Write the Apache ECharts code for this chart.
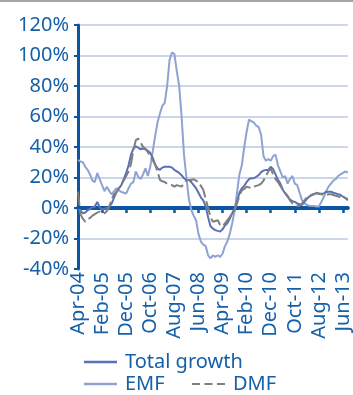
<!DOCTYPE html>
<html>
<head>
<meta charset="utf-8">
<script src="https://cdn.jsdelivr.net/npm/echarts@6/dist/echarts.min.js"></script>
<style>
html,body{margin:0;padding:0;background:#fff;}
#chart{width:353px;height:395px;}
</style>
</head>
<body>
<div id="chart"></div>
<script>
// Monthly categories Apr-04 .. Aug-13
const monthNames = ['Jan','Feb','Mar','Apr','May','Jun','Jul','Aug','Sep','Oct','Nov','Dec'];
const categories = [];
for (let k = 0; k < 113; k++) {
  const m = (3 + k) % 12;
  const y = 4 + Math.floor((3 + k) / 12);
  categories.push(monthNames[m] + '-' + String(y).padStart(2, '0'));
}

const totalGrowth = [
  -1, -1.5, -3.5, -3, -1.5, -0.5, 0.5, 1, 4, 0.5,
  -1, -0.5, 0, 1, 3, 7, 10.5, 13, 15, 19,
  23, 28, 35, 39, 40.5, 39.5, 38.5, 39, 38.5, 37.5,
  36, 33, 28.5, 26, 25, 26.5, 27, 27, 27, 26.5,
  25, 24, 23, 21.5, 19.5, 18.4, 18.4, 17, 15, 13,
  10, 7, 5, 1, -6, -12, -13.5, -14.5, -15, -15.5,
  -14, -11.5, -10, -7, -3.5, -0.5, 4, 10, 13, 14.5,
  17, 19, 19.5, 19.5, 20.5, 21.5, 23.5, 24.5, 25, 25,
  27, 25.5, 22, 18.5, 16, 12, 9.5, 7.4, 5.5, 4.5,
  4, 3, 2.5, 2, 4, 6, 7.5, 8.5, 9.2, 9.6,
  9.4, 9.3, 9.6, 10.5, 10.7, 10.7, 10, 9.6, 9, 8.5,
  7.4, 6.5, 5
];

const emf = [
  31.5, 30.5, 30, 27, 25, 22, 18, 17, 23, 19,
  15, 11, 14, 11, 9, 11, 13, 11.5, 10.5, 10,
  9.5, 13, 16, 17, 24, 20.5, 19, 22, 26, 21,
  27, 37, 47, 56, 62, 67, 69, 80, 97, 102,
  101, 90, 80, 60, 35, 20, 6, -1, -5, -8,
  -17, -22, -24, -25, -31, -33, -31, -32, -31, -32,
  -30, -25, -22, -17, -10, -2, 10, 22, 28, 40,
  50, 58, 57, 56, 54, 53, 48, 34, 31, 32,
  31, 34, 35, 28, 24, 20, 21, 16, 19, 21,
  16, 15, 10, 5, 3, 2, 1.5, 1.3, 1.3, 1,
  1, 4, 7, 11, 14, 16, 18, 19, 21, 22,
  23, 24, 23
];

const dmf = [
  10.7, -4, -7, -9, -7.5, -6.5, -5, -4, -3, -2.4,
  -3.5, -3.5, -2, 1, 6, 9, 10.5, 13, 15.5, 18,
  21, 24, 29, 38, 44.5, 45.5, 43, 40, 39, 36.5,
  34, 31.5, 28.5, 24, 18.5, 17.5, 17, 16, 15.5, 15,
  14, 15, 14.5, 14, 16, 18.4, 18.4, 18.4, 18.8, 18,
  17, 14.5, 12, 6, 0, -6, -9, -8.5, -8, -11,
  -12, -10, -8, -6, -3.5, -1.5, 3, 8, 11.5, 12.5,
  14, 13.5, 13, 14, 14.5, 15, 16, 18, 21, 24,
  26, 22, 19, 17, 14.5, 12, 10, 8, 5, 3,
  2, 1.3, 1.5, 3, 5, 7, 8, 8.5, 9, 10,
  9.5, 9, 8.5, 8.5, 9, 9, 8.5, 8, 7.5, 7,
  7, 6.5, 6
];

const yTicks = { min: -40, max: 120, interval: 20 };

const blue = '#0b55a3';
const textBlue = '#1660aa';
const gridColor = '#bcc7e4';
const totalColor = '#5a71b3';
const emfColor = '#8fa3d3';
const dmfColor = '#7f7f7f';
const font = '"Noto Sans", "Open Sans", sans-serif';
const dashIcon = 'path://M0,0h8v2h-8z M12.5,0h8v2h-8z M25,0h8v2h-8z';

const legendText = { color: textBlue, fontSize: 20, fontFamily: font, padding: [0, 0, 0, 3] };

const chart = echarts.init(document.getElementById('chart'));
chart.setOption({
  animation: false,
  backgroundColor: '#fff',
  graphic: [{
    type: 'rect', shape: { x: 0, y: 0, width: 353, height: 2 },
    style: { fill: '#a6a6a6' }, silent: true
  }],
  grid: { left: 78, top: 25, width: 275, height: 244, containLabel: false },
  legend: [{
    data: [{ name: 'Total growth', icon: 'rect' }],
    left: 79, top: 347,
    itemWidth: 33, itemHeight: 2.5, itemGap: 27,
    textStyle: legendText
  }, {
    data: [{ name: 'EMF', icon: 'rect' }],
    left: 79, top: 369,
    itemWidth: 33, itemHeight: 2.5,
    textStyle: legendText
  }, {
    data: [{ name: 'DMF', icon: dashIcon }],
    left: 187, top: 369,
    itemWidth: 33, itemHeight: 2.5,
    textStyle: legendText
  }],
  xAxis: [{
    type: 'category',
    data: categories,
    boundaryGap: false,
    position: 'bottom',
    axisLine: { show: false, onZero: false },
    axisTick: { show: false },
    splitLine: { show: false },
    axisLabel: {
      rotate: 90, interval: 9, margin: 3,
      color: textBlue, fontSize: 20, fontFamily: font
    }
  }, {
    type: 'category',
    data: categories,
    boundaryGap: false,
    position: 'top',
    axisLine: { show: true, onZero: true, lineStyle: { color: blue, width: 4 } },
    axisTick: { show: true, inside: true, interval: 9, length: 5, lineStyle: { color: blue, width: 2.5 } },
    axisLabel: { show: false },
    splitLine: { show: false }
  }],
  yAxis: {
    type: 'value',
    min: yTicks.min, max: yTicks.max, interval: yTicks.interval,
    axisLine: { show: true, lineStyle: { color: blue, width: 3 } },
    axisTick: { show: true, length: 4, lineStyle: { color: blue, width: 2 } },
    axisLabel: {
      margin: 9, color: textBlue, fontSize: 20, fontFamily: font,
      formatter: '{value}%'
    },
    splitLine: {
      show: true,
      lineStyle: {
        color: ['rgba(0,0,0,0)', gridColor, gridColor, gridColor, gridColor, gridColor, gridColor, gridColor, gridColor],
        width: 1.5
      }
    }
  },
  series: [{
    name: 'EMF', type: 'line', data: emf, symbol: 'none', xAxisIndex: 0,
    lineStyle: { color: emfColor, width: 2 }, itemStyle: { color: emfColor }, z: 2
  }, {
    name: 'Total growth', type: 'line', data: totalGrowth, symbol: 'none', xAxisIndex: 0,
    lineStyle: { color: totalColor, width: 2 }, itemStyle: { color: totalColor }, z: 3
  }, {
    name: 'DMF', type: 'line', data: dmf, symbol: 'none', xAxisIndex: 0,
    lineStyle: { color: dmfColor, width: 2, type: [14, 4] }, itemStyle: { color: dmfColor }, z: 4
  }]
});
</script>
</body>
</html>
